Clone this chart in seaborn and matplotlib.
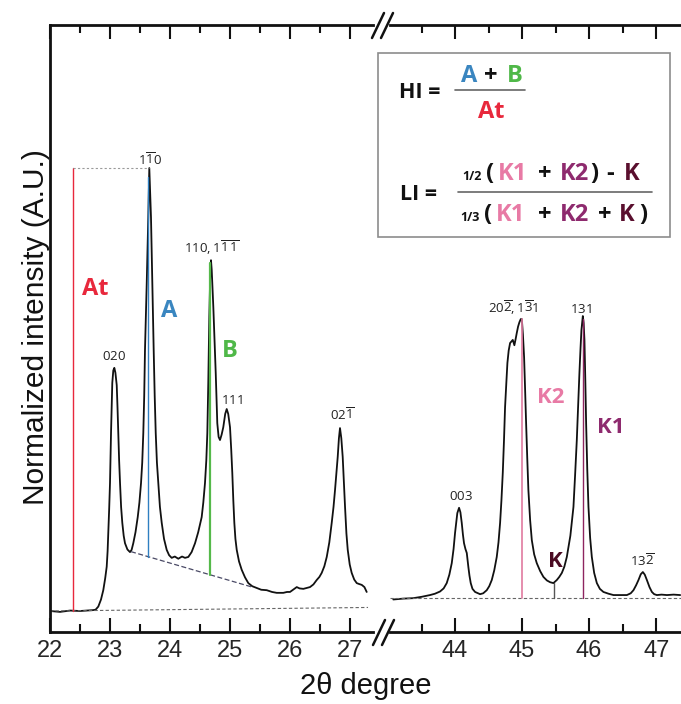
import matplotlib
matplotlib.use("Agg")
import matplotlib.pyplot as plt
import seaborn as sns
import pandas as pd
from matplotlib.lines import Line2D
from matplotlib.patches import Rectangle

# ---------------- data ----------------
two_theta_low = [22.000, 22.167, 22.333, 22.500, 22.717, 22.760, 22.805, 22.850, 22.888, 22.920,
                 22.945, 22.960, 22.972, 22.986, 23.000, 23.017, 23.038, 23.055, 23.072, 23.090,
                 23.112, 23.125, 23.138, 23.152, 23.167, 23.185, 23.205, 23.228, 23.250, 23.290,
                 23.333, 23.360, 23.388, 23.425, 23.462, 23.490, 23.517, 23.537, 23.555, 23.570,
                 23.583, 23.612, 23.638, 23.655, 23.683, 23.705, 23.728, 23.745, 23.762, 23.782,
                 23.805, 23.832, 23.862, 23.900, 23.945, 23.985, 24.028, 24.080, 24.138, 24.200,
                 24.250, 24.305, 24.360, 24.417, 24.470, 24.528, 24.555, 24.583, 24.605, 24.622,
                 24.638, 24.655, 24.672, 24.683, 24.695, 24.722, 24.762, 24.788, 24.810, 24.833,
                 24.860, 24.888, 24.920, 24.945, 24.970, 25.000, 25.020, 25.038, 25.055, 25.072,
                 25.090, 25.112, 25.150, 25.195, 25.250, 25.305, 25.370, 25.445, 25.520, 25.612,
                 25.700, 25.778, 25.888, 25.950, 26.000, 26.060, 26.112, 26.160, 26.222, 26.280,
                 26.333, 26.390, 26.445, 26.490, 26.528, 26.572, 26.612, 26.655, 26.695, 26.725,
                 26.750, 26.775, 26.795, 26.815, 26.833, 26.855, 26.878, 26.898, 26.917, 26.940,
                 26.962, 26.995, 27.028, 27.070, 27.112, 27.150, 27.195, 27.240, 27.278]
intensity_low = [0.0, -0.2, 0.1, 0.0, 0.2, 0.3, 1.0, 2.6, 4.7, 7.4,
                 10.0, 13.5, 17.6, 23.0, 28.9, 40.2, 51.5, 54.3, 54.9, 53.8,
                 51.0, 46.0, 40.2, 34.0, 28.9, 23.5, 19.9, 17.0, 15.3, 13.9,
                 13.3, 13.8, 15.3, 17.8, 21.2, 24.5, 28.9, 33.5, 40.2, 48.5,
                 58.9, 74.0, 88.9, 100.0, 88.9, 74.0, 58.9, 48.5, 40.2, 33.5,
                 28.9, 23.5, 19.9, 16.3, 13.8, 12.6, 12.0, 12.3, 11.8, 12.3,
                 12.0, 12.2, 13.3, 15.3, 17.8, 21.2, 24.5, 28.9, 34.0, 40.2,
                 51.5, 66.4, 77.0, 79.2, 77.0, 68.6, 53.7, 42.4, 39.3, 38.6,
                 39.8, 41.5, 44.5, 45.6, 44.5, 41.5, 36.5, 31.2, 25.0, 19.9,
                 16.3, 13.8, 11.2, 9.3, 7.6, 6.3, 5.6, 5.2, 4.8, 4.7,
                 4.3, 4.1, 4.1, 4.3, 4.3, 4.9, 5.4, 5.1, 5.0, 5.2,
                 5.4, 6.0, 7.0, 7.7, 8.6, 10.1, 12.2, 15.5, 19.9, 23.5,
                 27.3, 31.5, 34.8, 39.0, 41.3, 39.0, 34.8, 29.0, 23.5, 17.5,
                 13.8, 10.5, 8.6, 7.1, 6.3, 6.1, 5.9, 5.4, 4.3]

two_theta_high = [43.079, 43.230, 43.378, 43.500, 43.627, 43.700, 43.776, 43.830, 43.876, 43.915,
                  43.951, 43.978, 44.000, 44.018, 44.034, 44.060, 44.080, 44.100, 44.118, 44.134,
                  44.155, 44.175, 44.199, 44.215, 44.234, 44.260, 44.299, 44.373, 44.420, 44.473,
                  44.510, 44.548, 44.585, 44.622, 44.648, 44.672, 44.692, 44.712, 44.730, 44.746,
                  44.765, 44.781, 44.800, 44.821, 44.861, 44.885, 44.905, 44.921, 44.940, 44.960,
                  44.980, 44.996, 45.012, 45.030, 45.045, 45.060, 45.077, 45.094, 45.120, 45.145,
                  45.180, 45.219, 45.270, 45.318, 45.370, 45.418, 45.467, 45.518, 45.555, 45.593,
                  45.630, 45.667, 45.720, 45.766, 45.790, 45.816, 45.835, 45.855, 45.872, 45.885,
                  45.906, 45.918, 45.930, 45.943, 45.955, 45.972, 45.990, 46.015, 46.040, 46.075,
                  46.115, 46.160, 46.213, 46.290, 46.363, 46.460, 46.563, 46.620, 46.661, 46.700,
                  46.736, 46.770, 46.801, 46.830, 46.861, 46.900, 46.936, 46.970, 47.010, 47.080,
                  47.160, 47.260, 47.358]
intensity_high = [2.6, 2.8, 2.9, 3.2, 3.6, 3.9, 4.4, 5.1, 6.3, 8.2,
                  10.8, 14.0, 17.6, 20.0, 22.1, 23.3, 22.3, 19.9, 17.2, 15.3,
                  14.0, 13.1, 9.9, 8.0, 6.3, 5.0, 4.3, 3.8, 4.0, 4.7,
                  5.6, 7.0, 9.2, 12.2, 15.5, 19.9, 25.0, 31.2, 38.5, 46.0,
                  51.5, 56.0, 58.8, 60.5, 61.2, 60.0, 61.5, 62.8, 64.2, 65.2,
                  65.9, 65.9, 62.5, 57.3, 50.0, 42.4, 34.5, 27.3, 20.5, 16.0,
                  12.8, 10.8, 9.0, 7.7, 6.9, 6.5, 6.3, 7.0, 7.7, 8.6,
                  10.0, 12.2, 17.0, 23.5, 30.5, 38.6, 46.0, 53.7, 59.5, 63.4,
                  66.6, 65.0, 61.2, 52.0, 42.4, 32.0, 23.5, 16.5, 12.2, 8.6,
                  6.3, 5.0, 4.3, 3.9, 3.6, 3.6, 3.6, 4.0, 4.7, 5.8,
                  7.0, 8.3, 8.8, 8.2, 7.0, 5.4, 4.3, 3.8, 3.6, 3.7,
                  3.6, 3.7, 3.6]

ticks_low = [22, 23, 24, 25, 26, 27]
ticks_high = [44, 45, 46, 47]
minor_low = [22.5, 23.5, 24.5, 25.5, 26.5]
minor_high = [43.5, 44.5, 45.5, 46.5]

# peak indices (Miller indices) and where they sit
peak_text_low = [r"$\mathrm{020}$", r"$\mathrm{1\overline{1}0}$",
                 r"$\mathrm{110,1\overline{1}\,\overline{1}}$", r"$\mathrm{111}$",
                 r"$\mathrm{02\overline{1}}$"]
peak_pos_low = [(23.067, 56.7), (23.667, 100.7), (24.70, 80.8), (25.033, 46.7), (26.867, 43.1)]
peak_text_high = [r"$\mathrm{003}$", r"$\mathrm{20\overline{2},1\overline{3}1}$",
                  r"$\mathrm{131}$", r"$\mathrm{13\overline{2}}$"]
peak_pos_high = [(44.09, 25.1), (44.866, 67.3), (45.88, 67.3), (46.79, 10.2)]

# measurement markers
at_x, at_top = 22.38, 100.0
a_x, a_top = 23.64, 98.0
b_x, b_top = 24.672, 78.5
bg_x = [23.35, 25.37]
bg_y = [13.4, 5.4]
base_low_x = [22.0, 27.3]
base_low_y = [0.0, 0.8]
base_high_y = 2.9
k2_x, k2_top = 45.0, 65.9
k1_x, k1_top = 45.915, 66.0
k_x, k_top = 45.475, 6.3

# ---------------- style ----------------
sns.set_style("white")
plt.rcParams["font.family"] = ["Liberation Sans", "DejaVu Sans"]
plt.rcParams["mathtext.fontset"] = "custom"
plt.rcParams["mathtext.rm"] = "Open Sans"
plt.rcParams["mathtext.it"] = "Open Sans:italic"
plt.rcParams["mathtext.bf"] = "Open Sans:bold"

W, H = 681, 704
fig = plt.figure(figsize=(W / 100, H / 100), dpi=100)
fig.patch.set_facecolor("white")


def fx(px):
    return px / W


def fy(py):
    return 1 - py / H


ax_bottom, ax_top = 632, 25
axL = fig.add_axes([fx(50), fy(ax_bottom), (373 - 50) / W, (ax_bottom - ax_top) / H])
axR = fig.add_axes([fx(390), fy(ax_bottom), (681 - 390) / W, (ax_bottom - ax_top) / H])

ymin, ymax = -4.74, 132.3
df_low = pd.DataFrame({"two_theta": two_theta_low, "intensity": intensity_low})
df_high = pd.DataFrame({"two_theta": two_theta_high, "intensity": intensity_high})
sns.lineplot(data=df_low, x="two_theta", y="intensity", ax=axL, color="#111111",
             lw=1.3, sort=False, estimator=None)
sns.lineplot(data=df_high, x="two_theta", y="intensity", ax=axR, color="#111111",
             lw=1.3, sort=False, estimator=None)

axL.set_xlim(22.0, 27.383)
axR.set_xlim(43.03, 47.37)
for ax in (axL, axR):
    ax.set_ylim(ymin, ymax)
    ax.set_xlabel("")
    ax.set_ylabel("")
    ax.set_yticks([])
    ax.set_facecolor("white")
    for s in ("top", "bottom", "left", "right"):
        ax.spines[s].set_linewidth(2.0)
        ax.spines[s].set_color("#111111")
    ax.spines["right"].set_visible(False)
    ax.tick_params(axis="x", which="both", direction="in", top=True, bottom=True,
                   color="#111111", labelsize=17, pad=6)
    ax.tick_params(axis="x", which="major", length=10, width=1.5)
    ax.tick_params(axis="x", which="minor", length=5.5, width=1.5)
axR.spines["left"].set_visible(False)

axL.set_xticks(ticks_low)
axL.set_xticklabels([str(t) for t in ticks_low])
axL.set_xticks(minor_low, minor=True)
axR.set_xticks(ticks_high)
axR.set_xticklabels([str(t) for t in ticks_high])
axR.set_xticks(minor_high, minor=True)

# ---- reference lines, left panel
axL.plot(base_low_x, base_low_y, color="#666666", lw=0.8, ls=(0, (3, 2)))
axL.plot(bg_x, bg_y, color="#4a4a66", lw=0.9, ls=(0, (4, 2)))
axL.plot([at_x, at_x], [base_low_y[0], at_top], color="#e8283c", lw=1.0)
axL.plot([at_x, a_x + 0.015], [at_top, at_top], color="#9a9a9a", lw=0.8, ls=(0, (2, 2)))
bg_at = lambda x: bg_y[0] + (bg_y[1] - bg_y[0]) * (x - bg_x[0]) / (bg_x[1] - bg_x[0])
axL.plot([a_x, a_x], [bg_at(a_x), a_top], color="#2f7fc1", lw=1.0)
axL.plot([b_x, b_x], [bg_at(b_x), b_top], color="#55b94a", lw=1.6)

# ---- reference lines, right panel
axR.plot([43.03, 47.37], [base_high_y, base_high_y], color="#666666", lw=0.8, ls=(0, (3, 2)))
axR.plot([k2_x, k2_x], [base_high_y, k2_top], color="#e07aa0", lw=1.2)
axR.plot([k1_x, k1_x], [base_high_y, k1_top], color="#8e2460", lw=1.0)
axR.plot([k_x, k_x], [base_high_y, k_top], color="#555555", lw=1.0)

# ---- peak labels
for t, (x, y) in zip(peak_text_low, peak_pos_low):
    axL.text(x, y, t, ha="center", va="baseline", fontsize=9.5, color="#222222")
for t, (x, y) in zip(peak_text_high, peak_pos_high):
    axR.text(x, y, t, ha="center", va="baseline", fontsize=9.5, color="#222222")

lbl = dict(ha="center", va="baseline", fontsize=17, fontweight="bold", family="Open Sans")
axL.text(22.75, 71.3, "At", color="#e8283c", **lbl)
axL.text(23.983, 66.4, "A", color="#3a86c0", **lbl)
axL.text(25.0, 57.3, "B", color="#4fb848", **lbl)
lbl["fontsize"] = 16
axR.text(45.433, 47.0, "K2", color="#e87aa5", **lbl)
axR.text(46.328, 40.2, "K1", color="#8e2a6e", **lbl)
axR.text(45.493, 9.9, "K", color="#4a0a22", **lbl)

# ---- axis break marks
for (x0, y0, x1, y1) in [(373, 645, 385, 620), (382, 645, 394, 620),
                         (372, 38, 384, 13), (381, 38, 393, 13)]:
    fig.add_artist(Line2D([fx(x0), fx(x1)], [fy(y0), fy(y1)], color="#111111", lw=1.8,
                          transform=fig.transFigure))

# ---- axis titles
fig.text(fx(366), fy(686), "2θ degree", ha="center", va="center", fontsize=21, color="#111111")
fig.text(fx(36), fy(327), "Normalized intensity (A.U.)", ha="center", va="center",
         rotation=90, fontsize=21.5, color="#111111")

# ---- formula box
fig.add_artist(Rectangle((fx(378), fy(237)), (670 - 378) / W, (237 - 53) / H,
                         transform=fig.transFigure, facecolor="white", edgecolor="#8c8c8c",
                         lw=1.2, zorder=5))
ft = dict(ha="center", va="baseline", family="Open Sans", fontweight="bold", zorder=6)
fig.text(fx(420), fy(98), "HI =", fontsize=15.5, color="#111111", **ft)
fig.text(fx(469), fy(81.7), "A", fontsize=17, color="#3a86c0", **ft)
fig.text(fx(491), fy(81.7), "+", fontsize=17, color="#111111", **ft)
fig.text(fx(515), fy(81.7), "B", fontsize=17, color="#4fb848", **ft)
fig.add_artist(Line2D([fx(455), fx(525)], [fy(90), fy(90)], color="#666666", lw=1.2,
                      transform=fig.transFigure, zorder=6))
fig.text(fx(491), fy(118), "At", fontsize=17, color="#e8283c", **ft)

fig.text(fx(418), fy(200), "LI =", fontsize=15.5, color="#111111", **ft)
num = [("1/2", 472, 9, "#111111"), ("(", 490, 17, "#111111"), ("K1", 513, 17, "#e87aa5"),
       ("+", 545, 17, "#111111"), ("K2", 574, 17, "#8e2a6e"), (")", 594, 17, "#111111"),
       ("-", 610, 17, "#111111"), ("K", 632, 17, "#5a0f2e")]
for t, x, s, c in num:
    fig.text(fx(x), fy(180), t, fontsize=s, color=c, **ft)
fig.add_artist(Line2D([fx(458), fx(652)], [fy(192), fy(192)], color="#666666", lw=1.2,
                      transform=fig.transFigure, zorder=6))
den = [("1/3", 470, 9, "#111111"), ("(", 488, 17, "#111111"), ("K1", 511, 17, "#e87aa5"),
       ("+", 545, 17, "#111111"), ("K2", 574, 17, "#8e2a6e"), ("+", 605, 17, "#111111"),
       ("K", 627, 17, "#5a0f2e"), (")", 643, 17, "#111111")]
for t, x, s, c in den:
    fig.text(fx(x), fy(220.7), t, fontsize=s, color=c, **ft)

fig.savefig("out.png", dpi=100, facecolor="white")
